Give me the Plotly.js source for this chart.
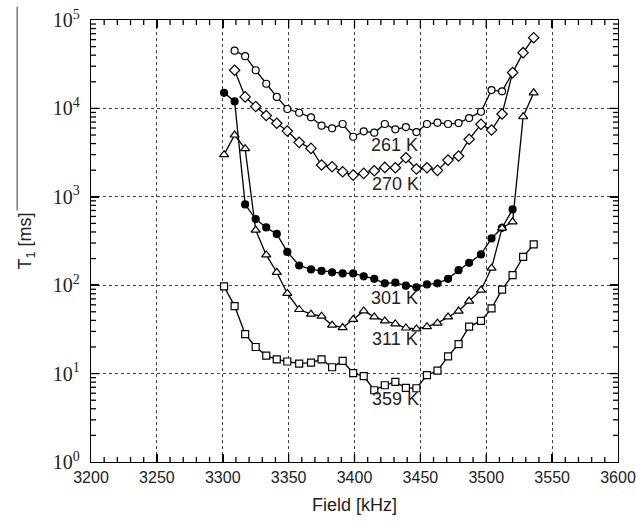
<!DOCTYPE html>
<html>
<head>
<meta charset="utf-8">
<script src="https://cdn.plot.ly/plotly-3.0.1.min.js"></script>
<style>html,body{margin:0;padding:0;background:#fff;}#chart{width:636px;height:529px;}</style>
</head>
<body>
<div id="chart"></div>
<script>
// Field values (kHz)
const field = [3301, 3309, 3317, 3325, 3333, 3341, 3349, 3358, 3367, 3375, 3383, 3391, 3399, 3407, 3415,
               3423, 3431, 3439, 3447, 3455, 3463, 3471, 3479, 3487, 3496, 3504, 3512, 3520, 3528, 3536];

// T1 [ms] per temperature
const t261 = [null, 45000, 39000, 27000, 19000, 13500, 9840, 8930, 7920, 6370, 5950, 6660, 4780, 5500, 5310,
              6660, 5800, 6150, 5400, 6660, 6890, 6660, 6830, 7780, 9170, 16100, 15600, 25400, null, null];
const t270 = [null, 27000, 13500, 10500, 8300, 6800, 5540, 4130, 3530, 2290, 2190, 1920, 1760, 1840, 1970,
              2150, 2130, 2760, 2060, 2130, 1990, 2600, 2890, 4470, 6600, 5690, 8640, 25400, 42700, 63100];
const t301 = [15000, 12000, 820, 560, 450, 380, 238, 167, 151, 145, 140, 136, 136, 126, 118,
              105, 107, 98.8, 94.6, 102, 105, 118, 148, 179, 223, 338, 446, 720, null, null];
const t311 = [3000, 5000, 3500, 420, 220, 140, 80.7, 53.1, 47.0, 44.6, 35.3, 33.2, 41.0, 51.2, 43.8,
              39.5, 36.5, 32.8, 32.0, 34.0, 37.2, 43.8, 51.0, 66.1, 87.8, 156, 443, 521, 8050, 15000];
const t359 = [97, 58, 28, 20, 16, 14.5, 13.7, 13.0, 13.3, 14.5, 11.8, 13.9, 10.1, 9.38, 6.48,
              7.38, 8.05, 6.88, 6.83, 9.59, 10.8, 15.7, 21.6, 34.0, 39.4, 54.6, 89.0, 130, 209, 289];

const seriesNames = ['261 K', '270 K', '301 K', '311 K', '359 K'];
const seriesData = [t261, t270, t301, t311, t359];
const labelField = [3430, 3431, 3430, 3431, 3431];
const labelT1 = [3900, 1400, 72, 24.4, 5.2];

const yTickVals = [1, 10, 100, 1000, 10000, 100000];
const yTickText = ['10<sup>0</sup>', '10<sup>1</sup>', '10<sup>2</sup>', '10<sup>3</sup>', '10<sup>4</sup>', '10<sup>5</sup>'];

const symbols = ['circle', 'diamond', 'circle', 'triangle-up', 'square'];
const fills = ['#fff', '#fff', '#000', '#fff', '#fff'];
const sizes = [7, 8, 7, 8, 7];

const traces = seriesData.map((vals, k) => ({
  x: field, y: vals, type: 'scatter', mode: 'lines+markers', name: seriesNames[k],
  line: {color: '#000', width: 1.3},
  marker: {symbol: symbols[k], size: sizes[k], color: fills[k], line: {color: '#000', width: 1.2}},
  connectgaps: false, showlegend: false, cliponaxis: true
}));

// minor tick positions for log axis
const minorVals = [];
for (let d = 0; d < 5; d++) for (let m = 2; m <= 9; m++) minorVals.push(m * Math.pow(10, d));

// tick marks drawn as short lines on all four sides (axis furniture)
const PW = 527, PH = 442;
const tickShapes = [];
function tickLine(xref, x0, x1, yref, y0, y1) {
  tickShapes.push({type: 'line', xref: xref, yref: yref, x0: x0, x1: x1, y0: y0, y1: y1,
                   line: {color: '#000', width: 1.3}, layer: 'above'});
}
for (let f = 3210; f < 3600; f += 10) {
  const len = (f % 50 === 0 ? 8 : 5) / PH;
  tickLine('x', f, f, 'paper', 0, len);
  tickLine('x', f, f, 'paper', 1 - len, 1);
}
const yTicksAll = minorVals.map(v => [v, 5]).concat(yTickVals.slice(1, 5).map(v => [v, 8]));
yTicksAll.forEach(([v, l]) => {
  const yp = Math.log10(v) / 5, len = l / PW;
  tickLine('paper', 0, len, 'paper', yp, yp);
  tickLine('paper', 1 - len, 1, 'paper', yp, yp);
});

const annotations = seriesNames.map((n, k) => ({
  x: labelField[k], y: Math.log10(labelT1[k]), xref: 'x', yref: 'y', text: n, showarrow: false,
  font: {family: 'Liberation Sans, Arial, sans-serif', size: 18, color: '#222'}
}));

const layout = {
  width: 636, height: 529,
  margin: {l: 91, r: 18, t: 20, b: 67},
  paper_bgcolor: '#fff', plot_bgcolor: '#fff',
  font: {family: 'Liberation Sans, Arial, sans-serif', color: '#222'},
  xaxis: {
    range: [3200, 3600], dtick: 50, tick0: 3200,
    ticks: 'inside', ticklen: 8, tickwidth: 1.5, tickcolor: '#000',
    showline: true, linecolor: '#000', linewidth: 1.3, mirror: 'allticks',
    showgrid: true, gridcolor: '#444', griddash: 'dot', gridwidth: 1,
    zeroline: false,
    tickfont: {family: 'Liberation Sans, Arial, sans-serif', size: 16, color: '#222'},
    title: {text: 'Field [kHz]', font: {family: 'Liberation Sans, Arial, sans-serif', size: 18, color: '#222'}, standoff: 14}
  },
  yaxis: {
    type: 'log', range: [0, 5],
    tickmode: 'array', tickvals: yTickVals, ticktext: yTickText,
    ticks: 'inside', ticklen: 8, tickwidth: 1.5, tickcolor: '#000',
    showline: true, linecolor: '#000', linewidth: 1.3, mirror: 'allticks',
    showgrid: true, gridcolor: '#444', griddash: 'dot', gridwidth: 1,
    zeroline: false,
    tickfont: {family: 'Liberation Serif, Times New Roman, serif', size: 20, color: '#222'},
    ticklabelstandoff: 6,
    title: {text: 'T<sub>1</sub> [ms]', font: {family: 'Liberation Sans, Arial, sans-serif', size: 18, color: '#222'}, standoff: 16}
  },
  annotations: annotations,
  shapes: [{type: 'line', xref: 'paper', yref: 'paper', x0: -0.14, x1: -0.14, y0: 0.569, y1: 1.03,
            line: {color: '#777', width: 1.5}}].concat(tickShapes)
};

Plotly.newPlot('chart', traces, layout, {staticPlot: true, displayModeBar: false});
</script>
</body>
</html>
